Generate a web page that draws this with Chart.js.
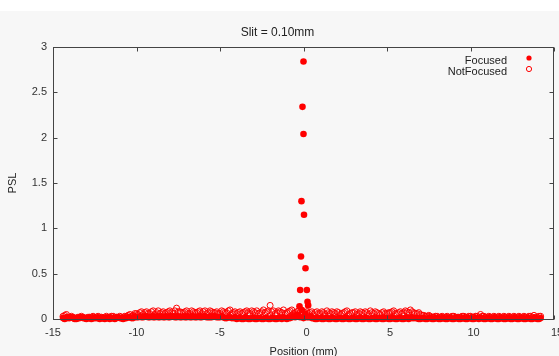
<!DOCTYPE html>
<html>
<head>
<meta charset="utf-8">
<script src="https://cdn.jsdelivr.net/npm/chart.js@4"></script>
<style>
  html, body { margin: 0; padding: 0; background: #fff; overflow: hidden; }
  #wrap { position: absolute; top: 11px; left: 0; width: 559px; height: 350px; background: #f7f7f7; }
</style>
</head>
<body>
<div id="wrap"><canvas id="c" width="559" height="350"></canvas></div>
<script>
// scan positions (mm), first pass
var positions = [
  -14.4,-14.2,-14.0,-13.8,-13.6,-13.4,-13.2,-13.0,-12.8,-12.6,-12.4,-12.2,
  -12.0,-11.8,-11.6,-11.4,-11.2,-11.0,-10.8,-10.6,-10.4,-10.2,-10.0,-9.8,
  -9.6,-9.4,-9.2,-9.0,-8.8,-8.6,-8.4,-8.2,-8.0,-7.8,-7.6,-7.4,
  -7.2,-7.0,-6.8,-6.6,-6.4,-6.2,-6.0,-5.8,-5.6,-5.4,-5.2,-5.0,
  -4.8,-4.6,-4.4,-4.2,-4.0,-3.8,-3.6,-3.4,-3.2,-3.0,-2.8,-2.6,
  -2.4,-2.2,-2.0,-1.8,-1.6,-1.4,-1.2,-1.0,-0.8,-0.6,-0.4,-0.2,
  0.0,0.2,0.4,0.6,0.8,1.0,1.2,1.4,1.6,1.8,2.0,2.2,
  2.4,2.6,2.8,3.0,3.2,3.4,3.6,3.8,4.0,4.2,4.4,4.6,
  4.8,5.0,5.2,5.4,5.6,5.8,6.0,6.2,6.4,6.6,6.8,7.0,
  7.2,7.4,7.6,7.8,8.0,8.2,8.4,8.6,8.8,9.0,9.2,9.4,
  9.6,9.8,10.0,10.2,10.4,10.6,10.8,11.0,11.2,11.4,11.6,11.8,
  12.0,12.2,12.4,12.6,12.8,13.0,13.2,13.4,13.6,13.8,14.0,14.2
]

var focused = [
  0.01,0.02,0.01,0.01,0.00,0.01,0.01,0.00,0.01,0.01,0.01,0.00,
  0.01,0.01,0.00,0.01,0.01,0.01,0.00,0.01,0.02,0.01,0.02,0.03,
  0.02,0.03,0.02,0.02,0.03,0.02,0.02,0.03,0.02,0.03,0.02,0.02,
  0.03,0.02,0.02,0.03,0.02,0.02,0.03,0.02,0.02,0.03,0.02,0.02,
  0.02,0.01,0.02,0.01,0.00,0.01,0.00,0.01,0.00,0.01,0.00,0.01,
  0.00,0.01,0.00,0.01,0.00,0.01,0.02,0.00,0.01,0.03,0.05,0.02,
  0.01,0.02,0.03,0.01,0.00,0.01,0.00,0.01,0.00,0.01,0.00,0.01,
  0.00,0.01,0.00,0.01,0.00,0.01,0.00,0.01,0.00,0.01,0.00,0.01,
  0.00,0.01,0.00,0.01,0.00,0.01,0.00,0.01,0.02,0.01,0.01,0.00,
  0.01,0.00,0.01,0.00,0.01,0.00,0.01,0.00,0.01,0.00,0.01,0.00,
  0.01,0.00,0.01,0.00,0.01,0.01,0.00,0.01,0.00,0.01,0.00,0.01,
  0.00,0.01,0.00,0.01,0.00,0.01,0.00,0.01,0.00,0.01,0.00,0.01
]

var notFocused = [
  0.03,0.05,0.02,0.02,0.01,0.02,0.02,0.01,0.02,0.03,0.02,0.02,
  0.01,0.03,0.02,0.03,0.02,0.03,0.02,0.03,0.05,0.04,0.06,0.07,
  0.05,0.08,0.06,0.09,0.07,0.06,0.08,0.07,0.09,0.06,0.12,0.08,
  0.07,0.09,0.06,0.08,0.07,0.09,0.08,0.06,0.09,0.07,0.08,0.06,
  0.08,0.07,0.10,0.07,0.06,0.08,0.07,0.09,0.06,0.08,0.09,0.07,
  0.10,0.08,0.15,0.09,0.07,0.08,0.10,0.07,0.09,0.06,0.08,0.07,
  0.06,0.08,0.07,0.05,0.08,0.06,0.07,0.09,0.06,0.07,0.08,0.05,
  0.07,0.09,0.06,0.07,0.05,0.08,0.06,0.07,0.09,0.06,0.07,0.05,
  0.08,0.06,0.07,0.09,0.06,0.08,0.07,0.08,0.10,0.07,0.06,0.05,
  0.04,0.03,0.03,0.02,0.03,0.02,0.02,0.03,0.02,0.03,0.02,0.02,
  0.03,0.02,0.03,0.02,0.03,0.05,0.03,0.02,0.02,0.03,0.02,0.02,
  0.03,0.02,0.02,0.03,0.02,0.02,0.03,0.02,0.03,0.04,0.02,0.03
]

// second pass, offset by 0.1 mm
var positionsB = [
  -14.3,-14.1,-13.9,-13.7,-13.5,-13.3,-13.1,-12.9,-12.7,-12.5,-12.3,-12.1,
  -11.9,-11.7,-11.5,-11.3,-11.1,-10.9,-10.7,-10.5,-10.3,-10.1,-9.9,-9.7,
  -9.5,-9.3,-9.1,-8.9,-8.7,-8.5,-8.3,-8.1,-7.9,-7.7,-7.5,-7.3,
  -7.1,-6.9,-6.7,-6.5,-6.3,-6.1,-5.9,-5.7,-5.5,-5.3,-5.1,-4.9,
  -4.7,-4.5,-4.3,-4.1,-3.9,-3.7,-3.5,-3.3,-3.1,-2.9,-2.7,-2.5,
  -2.3,-2.1,-1.9,-1.7,-1.5,-1.3,-1.1,-0.9,-0.7,-0.5,-0.3,-0.1,
  0.1,0.3,0.5,0.7,0.9,1.1,1.3,1.5,1.7,1.9,2.1,2.3,
  2.5,2.7,2.9,3.1,3.3,3.5,3.7,3.9,4.1,4.3,4.5,4.7,
  4.9,5.1,5.3,5.5,5.7,5.9,6.1,6.3,6.5,6.7,6.9,7.1,
  7.3,7.5,7.7,7.9,8.1,8.3,8.5,8.7,8.9,9.1,9.3,9.5,
  9.7,9.9,10.1,10.3,10.5,10.7,10.9,11.1,11.3,11.5,11.7,11.9,
  12.1,12.3,12.5,12.7,12.9,13.1,13.3,13.5,13.7,13.9,14.1
]

var focusedB = [
  0.00,0.01,0.02,0.00,0.01,0.02,0.01,0.01,0.00,0.02,0.01,0.01,
  0.00,0.02,0.01,0.00,0.02,0.01,0.01,0.02,0.01,0.03,0.02,0.02,
  0.03,0.02,0.03,0.02,0.02,0.03,0.02,0.02,0.03,0.02,0.03,0.02,
  0.02,0.03,0.02,0.02,0.03,0.02,0.03,0.02,0.02,0.03,0.02,0.03,
  0.01,0.02,0.01,0.02,0.01,0.00,0.01,0.00,0.01,0.00,0.01,0.00,
  0.01,0.00,0.01,0.00,0.01,0.00,0.01,0.01,0.02,0.02,0.04,0.10,
  0.06,0.02,0.01,0.00,0.01,0.00,0.01,0.00,0.01,0.00,0.01,0.00,
  0.01,0.00,0.01,0.00,0.01,0.00,0.01,0.00,0.01,0.00,0.01,0.00,
  0.01,0.00,0.01,0.00,0.01,0.00,0.01,0.00,0.01,0.01,0.00,0.01,
  0.00,0.01,0.00,0.01,0.00,0.01,0.00,0.01,0.00,0.01,0.00,0.01,
  0.00,0.01,0.00,0.01,0.00,0.01,0.00,0.01,0.00,0.01,0.00,0.01,
  0.00,0.01,0.00,0.01,0.00,0.01,0.00,0.01,0.00,0.01,0.00
]

var notFocusedB = [
  0.04,0.02,0.03,0.01,0.02,0.03,0.01,0.02,0.02,0.01,0.03,0.02,
  0.02,0.01,0.03,0.02,0.02,0.01,0.03,0.04,0.03,0.06,0.05,0.08,
  0.07,0.06,0.08,0.05,0.09,0.07,0.06,0.08,0.07,0.09,0.08,0.07,
  0.08,0.06,0.09,0.07,0.08,0.06,0.09,0.07,0.08,0.07,0.06,0.09,
  0.07,0.09,0.06,0.08,0.07,0.06,0.08,0.07,0.09,0.07,0.06,0.08,
  0.07,0.09,0.08,0.06,0.09,0.07,0.06,0.08,0.10,0.07,0.09,0.06,
  0.07,0.06,0.08,0.07,0.06,0.08,0.05,0.07,0.08,0.06,0.07,0.06,
  0.08,0.05,0.07,0.08,0.06,0.07,0.08,0.05,0.07,0.08,0.06,0.07,
  0.06,0.07,0.08,0.06,0.07,0.06,0.09,0.07,0.08,0.06,0.07,0.04,
  0.03,0.04,0.02,0.03,0.02,0.03,0.02,0.02,0.03,0.02,0.02,0.03,
  0.02,0.03,0.02,0.03,0.02,0.03,0.02,0.03,0.02,0.02,0.03,0.02,
  0.02,0.03,0.02,0.02,0.03,0.02,0.02,0.03,0.02,0.02,0.03
]

// the focused peak around 0 mm
var peakPositions = [0.0, -0.06, 0.0, -0.12, 0.03, -0.15, 0.12, -0.2, 0.2, -0.24, 0.24, 0.28]
var peakPSL = [2.84, 2.34, 2.04, 1.30, 1.15, 0.69, 0.56, 0.32, 0.32, 0.14, 0.19, 0.15]

var legendLabels = ['Focused', 'NotFocused']

Chart.defaults.font.family = "'Liberation Sans', Arial, sans-serif"
Chart.defaults.font.size = 11
Chart.defaults.color = '#333'

function to_points(xs, ys){
    return xs.map(function(x, i){ return {x: x, y: ys[i]} })
}

// gnuplot style frame, inward ticks on all 4 sides, and key inside the plot
var frame = {
    id: 'frame',
    afterDatasetsDraw: function(chart){
        var ctx = chart.ctx, a = chart.chartArea
        var xs = chart.scales.x, ys = chart.scales.y
        var L = Math.round(a.left) + 0.5, R = Math.round(a.right) - 0.5
        var T = Math.round(a.top) + 0.5, B = Math.round(a.bottom) + 0.5
        var tl = 4
        ctx.save()
        ctx.strokeStyle = '#444'
        ctx.lineWidth = 1
        ctx.strokeRect(L, T, R - L, B - T)
        ctx.beginPath()
        xs.ticks.forEach(function(t){
            var px = Math.round(xs.getPixelForValue(t.value)) + 0.5
            ctx.moveTo(px, B); ctx.lineTo(px, B - tl)
            ctx.moveTo(px, T); ctx.lineTo(px, T + tl)
        })
        ys.ticks.forEach(function(t){
            var py = Math.round(ys.getPixelForValue(t.value)) + 0.5
            ctx.moveTo(L, py); ctx.lineTo(L + tl, py)
            ctx.moveTo(R, py); ctx.lineTo(R - tl, py)
        })
        ctx.stroke()

        // key
        ctx.font = "11px 'Liberation Sans', Arial, sans-serif"
        ctx.textAlign = 'right'
        ctx.textBaseline = 'middle'
        var textX = 507, markX = 529
        chart.data.datasets.forEach(function(ds, i){
            var ty = 50 + i * 11
            ctx.fillStyle = '#222'
            ctx.fillText(legendLabels[i], textX, ty)
            ctx.beginPath()
            ctx.arc(markX, ty - 3, 2.6, 0, Math.PI * 2)
            if (ds.backgroundColor !== 'transparent'){
                ctx.fillStyle = ds.backgroundColor
                ctx.fill()
            } else {
                ctx.strokeStyle = ds.borderColor
                ctx.stroke()
            }
        })
        ctx.restore()
    }
}

var ctx = document.getElementById('c').getContext('2d')
new Chart(ctx, {
    type: 'scatter',
    data: {
        datasets: [{
            label: legendLabels[0],
            data: to_points(positions, focused)
                .concat(to_points(positionsB, focusedB))
                .concat(to_points(peakPositions, peakPSL)),
            backgroundColor: '#f00',
            borderColor: '#f00',
            borderWidth: 0,
            pointRadius: 3.3,
            clip: false,
            order: 2
        }, {
            label: legendLabels[1],
            data: to_points(positions, notFocused).concat(to_points(positionsB, notFocusedB)),
            backgroundColor: 'transparent',
            borderColor: '#f00',
            borderWidth: 1,
            pointRadius: 3,
            clip: false,
            order: 1
        }]
    },
    options: {
        responsive: false,
        animation: false,
        events: [],
        layout: {padding: {left: 0, right: 4, top: 0, bottom: 0}},
        plugins: {
            legend: {display: false},
            tooltip: {enabled: false},
            title: {
                display: true,
                text: 'Slit = 0.10mm',
                color: '#222',
                font: {size: 12, weight: 'normal'},
                padding: {top: 14, bottom: 7.6}
            }
        },
        scales: {
            x: {
                type: 'linear',
                min: -15, max: 15,
                grid: {display: false, drawTicks: false},
                border: {display: false},
                ticks: {
                    stepSize: 5,
                    padding: 7,
                    maxRotation: 0,
                    callback: function(v){ return v >= 0 ? '\u2007' + v : '' + v }
                },
                title: {display: true, text: 'Position (mm)', color: '#222', padding: {top: 0, bottom: 2}},
                afterFit: function(s){ s.height = 42; s.paddingLeft = 0; s.paddingRight = 0 }
            },
            y: {
                type: 'linear',
                min: 0, max: 3,
                grid: {display: false, drawTicks: false},
                border: {display: false},
                ticks: {stepSize: 0.5, padding: 6, callback: function(v){ return '' + v }},
                title: {display: true, text: 'PSL', color: '#222', padding: {top: 6.4, bottom: 0}},
                afterFit: function(s){ s.width = 53; s.paddingTop = 0; s.paddingBottom = 0 }
            }
        }
    },
    plugins: [frame]
})
</script>
</body>
</html>
